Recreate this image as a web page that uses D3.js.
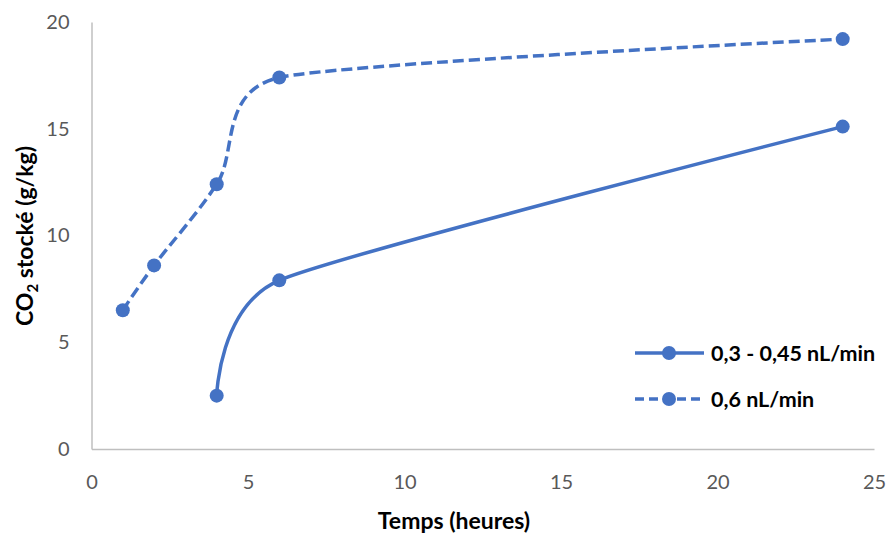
<!DOCTYPE html>
<html><head><meta charset="utf-8">
<script src="https://cdn.jsdelivr.net/npm/d3@7"></script>
<style>body{margin:0;background:#fff}svg{display:block}</style>
</head><body>
<svg id="c" width="887" height="533"></svg>
<script>
const seriesNames = ["0,3 - 0,45 nL/min", "0,6 nL/min"];
const s1x = [4, 6, 24];
const s1y = [2.5, 7.9, 15.1];
const s2x = [1, 2, 4, 6, 24];
const s2y = [6.5, 8.6, 12.4, 17.4, 19.2];
const xTicks = [0, 5, 10, 15, 20, 25];
const yTicks = [0, 5, 10, 15, 20];
const xTitle = "Temps (heures)";

const color = "#4472C4";
const svg = d3.select("#c");
const x = d3.scaleLinear().domain([0, 25]).range([91.5, 874]);
const y = d3.scaleLinear().domain([0, 20]).range([449, 22]);
const font = "Lato, 'Open Sans', sans-serif";

// axes
const xa = svg.append("g").attr("transform", "translate(0,449)")
  .call(d3.axisBottom(x).tickValues(xTicks).tickSize(0));
const ya = svg.append("g").attr("transform", "translate(91.5,0)")
  .call(d3.axisLeft(y).tickValues(yTicks).tickSize(0).tickPadding(22));
[xa, ya].forEach(a => {
  a.select(".domain").attr("stroke", "#bfbfbf").attr("stroke-width", 1.5);
  a.selectAll("text").attr("fill", "#595959").attr("font-family", font).attr("font-size", 20);
});
xa.selectAll("text").attr("y", 33).attr("dy", "0.35em");

// titles
svg.append("text").attr("x", 454).attr("y", 521).attr("dy", "0.35em")
  .attr("text-anchor", "middle").attr("font-family", font).attr("font-weight", "bold")
  .attr("font-size", 23).attr("fill", "#000").text(xTitle);
const yt = svg.append("text").attr("transform", "translate(25,236) rotate(-90)")
  .attr("dy", "0.35em").attr("text-anchor", "middle").attr("font-family", font)
  .attr("font-weight", "bold").attr("font-size", 23).attr("fill", "#000");
yt.append("tspan").text("CO");
yt.append("tspan").attr("font-size", 15).attr("dy", "0.3em").text("2");
yt.append("tspan").attr("dy", "-0.2em").text(" stocké (g/kg)");

// Excel-style smoothed Bezier path
function smoothPath(pts) {
  const p = pts.map(d => [x(d[0]), y(d[1])]);
  const n = p.length;
  const dist = (a, b) => Math.hypot(b[0] - a[0], b[1] - a[1]);
  const h = [];
  for (let i = 0; i < n; i++) {
    if (i === 0 || i === n - 1) { h[i] = [0, 0]; continue; }
    const a = p[i - 1], b = p[i], c = p[i + 1];
    const d02 = dist(a, c), d01 = dist(a, b), d12 = dist(b, c);
    const f = Math.min(1 / 6, d01 / (2 * d02), d12 / (2 * d02));
    h[i] = [(c[0] - a[0]) * f, (c[1] - a[1]) * f];
  }
  const path = d3.path();
  path.moveTo(p[0][0], p[0][1]);
  for (let i = 0; i < n - 1; i++) {
    path.bezierCurveTo(p[i][0] + h[i][0], p[i][1] + h[i][1],
      p[i + 1][0] - h[i + 1][0], p[i + 1][1] - h[i + 1][1], p[i + 1][0], p[i + 1][1]);
  }
  return path.toString();
}

const d1 = s1x.map((v, i) => [v, s1y[i]]);
const d2 = s2x.map((v, i) => [v, s2y[i]]);
const series = [{d: d1, dash: null}, {d: d2, dash: "11,5"}];
series.forEach(s => {
  svg.append("path").attr("d", smoothPath(s.d)).attr("fill", "none")
    .attr("stroke", color).attr("stroke-width", 3.5)
    .attr("stroke-dasharray", s.dash);
  svg.append("g").selectAll("circle").data(s.d).join("circle")
    .attr("cx", d => x(d[0])).attr("cy", d => y(d[1])).attr("r", 7).attr("fill", color);
});

// legend
series.forEach((s, i) => {
  const ly = 353 + i * 46;
  svg.append("line").attr("x1", 635).attr("x2", 704).attr("y1", ly).attr("y2", ly)
    .attr("stroke", color).attr("stroke-width", 3.5).attr("stroke-dasharray", s.dash ? "9,5" : null);
  svg.append("circle").attr("cx", 669).attr("cy", ly).attr("r", 7).attr("fill", color);
  svg.append("text").attr("x", 711).attr("y", ly).attr("dy", "0.35em")
    .attr("font-family", font).attr("font-weight", "bold").attr("font-size", 21.5)
    .attr("fill", "#000").text(seriesNames[i]);
});
</script>
</body></html>
